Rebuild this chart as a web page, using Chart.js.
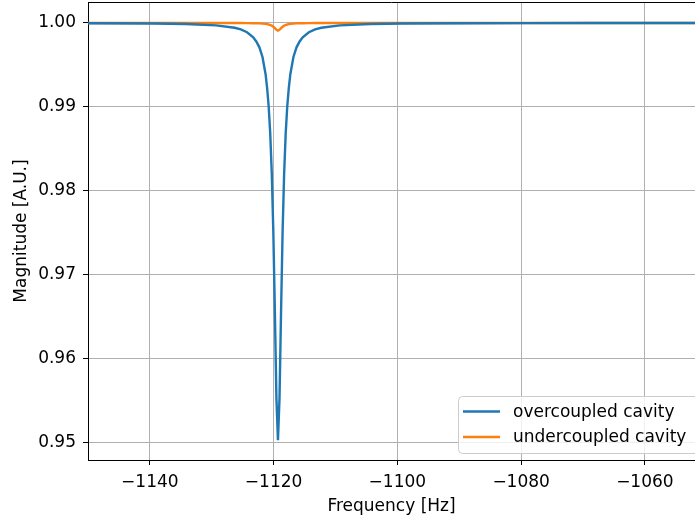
<!DOCTYPE html>
<html>
<head>
<meta charset="utf-8">
<script src="https://cdn.jsdelivr.net/npm/chart.js@4.4.1/dist/chart.umd.min.js"></script>
<style>
  body { margin: 0; background: #fff; }
  canvas { display: block; }
</style>
</head>
<body>
<canvas id="chart" width="695" height="525"></canvas>
<script>
// frequency samples (Hz), dense around the resonance
const freqs = [-1150, -1139.3, -1134.3, -1129.3, -1126.3, -1125.3, -1124.3, -1123.3, -1122.8, -1122.3,
    -1121.8, -1121.3, -1121.05, -1120.8, -1120.55, -1120.3, -1120.05, -1119.8, -1119.55, -1119.3,
    -1119.05, -1118.8, -1118.55, -1118.3, -1118.05, -1117.8, -1117.55, -1117.3, -1116.8, -1116.3,
    -1115.8, -1115.3, -1114.3, -1113.3, -1112.3, -1109.3, -1104.3, -1099.3, -1089.3, -1079.3,
    -1069.3, -1050];

const overcoupled = [0.99997, 0.99993, 0.99988, 0.99972, 0.99943, 0.99923, 0.99890, 0.99830, 0.99780, 0.99710,
    0.99595, 0.99390, 0.99225, 0.99005, 0.98685, 0.98210, 0.97515, 0.96560, 0.95530, 0.95030,
    0.95530, 0.96560, 0.97515, 0.98210, 0.98685, 0.99005, 0.99225, 0.99390, 0.99595, 0.99710,
    0.99780, 0.99830, 0.99890, 0.99923, 0.99943, 0.99972, 0.99988, 0.99993, 0.99997, 0.99998,
    0.99999, 0.99999];

const undercoupled = [1.00000, 1.00000, 1.00000, 1.00000, 0.99999, 0.99999, 0.99998, 0.99997, 0.99996, 0.99995,
    0.99993, 0.99989, 0.99986, 0.99982, 0.99976, 0.99968, 0.99955, 0.99938, 0.99919, 0.99910,
    0.99919, 0.99938, 0.99955, 0.99968, 0.99976, 0.99982, 0.99986, 0.99989, 0.99993, 0.99995,
    0.99996, 0.99997, 0.99998, 0.99999, 0.99999, 1.00000, 1.00000, 1.00000, 1.00000, 1.00000,
    1.00000, 1.00000];

const xTicks = [-1140, -1120, -1100, -1080, -1060];
const yTicks = [0.95, 0.96, 0.97, 0.98, 0.99, 1.00];

const seriesNames = ['overcoupled cavity', 'undercoupled cavity'];
const seriesColors = ['#1f77b4', '#ff7f0e'];

const FONT = 'DejaVu Sans';
const FS = 17;

// matplotlib-like top spine
const topSpine = {
    id: 'topSpine',
    afterDraw(chart) {
        const {ctx, chartArea} = chart;
        ctx.save();
        ctx.strokeStyle = '#000';
        ctx.lineWidth = 1;
        ctx.beginPath();
        ctx.moveTo(chartArea.left, chartArea.top + 0.5);
        ctx.lineTo(chartArea.right, chartArea.top + 0.5);
        ctx.stroke();
        ctx.restore();
    }
};

// legend box in the lower right corner
const boxLegend = {
    id: 'boxLegend',
    afterDraw(chart) {
        const ctx = chart.ctx;
        const x = 458.5, y = 396.5, w = 260, h = 57, r = 4;
        ctx.save();
        ctx.beginPath();
        ctx.roundRect(x, y, w, h, r);
        ctx.fillStyle = 'rgba(255,255,255,0.8)';
        ctx.fill();
        ctx.strokeStyle = '#cccccc';
        ctx.lineWidth = 1;
        ctx.stroke();
        ctx.font = FS + 'px "' + FONT + '"';
        ctx.textBaseline = 'middle';
        chart.data.datasets.forEach((ds, i) => {
            const ly = 411.5 + i * 25.5;
            ctx.strokeStyle = ds.borderColor;
            ctx.lineWidth = 2.4;
            ctx.beginPath();
            ctx.moveTo(463, ly);
            ctx.lineTo(500, ly);
            ctx.stroke();
            ctx.fillStyle = '#000';
            ctx.fillText(ds.label, 513, ly + 1);
        });
        ctx.restore();
    }
};

const datasets = [overcoupled, undercoupled].map((vals, i) => ({
    label: seriesNames[i],
    data: freqs.map((f, j) => ({x: f, y: vals[j]})),
    borderColor: seriesColors[i],
    borderWidth: 2.4,
    pointRadius: 0,
    fill: false,
    tension: 0
}));

new Chart(document.getElementById('chart').getContext('2d'), {
    type: 'line',
    data: {datasets},
    options: {
        responsive: false,
        animation: false,
        parsing: false,
        layout: {padding: {top: 2, right: 0, bottom: 0, left: 0}},
        scales: {
            x: {
                type: 'linear',
                min: -1150,
                max: -1051.9,
                afterBuildTicks: axis => { axis.ticks = xTicks.map(v => ({value: v})); },
                afterFit: axis => { axis.height = 65; axis.paddingLeft = 0; axis.paddingRight = 0; },
                ticks: {
                    color: '#000',
                    font: {family: FONT, size: FS},
                    padding: 7,
                    maxRotation: 0,
                    callback: v => String(v).replace('-', '\u2212')
                },
                grid: {color: '#b0b0b0', lineWidth: 1, tickColor: '#000', tickLength: 5},
                border: {color: '#000', width: 1},
                title: {
                    display: true,
                    text: 'Frequency [Hz]',
                    color: '#000',
                    font: {family: FONT, size: FS},
                    padding: {top: 0, bottom: 8}
                }
            },
            y: {
                min: 0.94794,
                max: 1.0025,
                afterBuildTicks: axis => { axis.ticks = yTicks.map(v => ({value: v})); },
                afterFit: axis => { axis.width = 88; axis.paddingTop = 0; axis.paddingBottom = 0; },
                ticks: {
                    color: '#000',
                    font: {family: FONT, size: FS},
                    padding: 7,
                    callback: v => Number(v).toFixed(2)
                },
                grid: {color: '#b0b0b0', lineWidth: 1, tickColor: '#000', tickLength: 5},
                border: {color: '#000', width: 1},
                title: {
                    display: true,
                    text: 'Magnitude [A.U.]',
                    color: '#000',
                    font: {family: FONT, size: FS},
                    padding: {top: 11, bottom: 0}
                }
            }
        },
        plugins: {
            legend: {display: false},
            tooltip: {enabled: false}
        }
    },
    plugins: [topSpine, boxLegend]
});
</script>
</body>
</html>
